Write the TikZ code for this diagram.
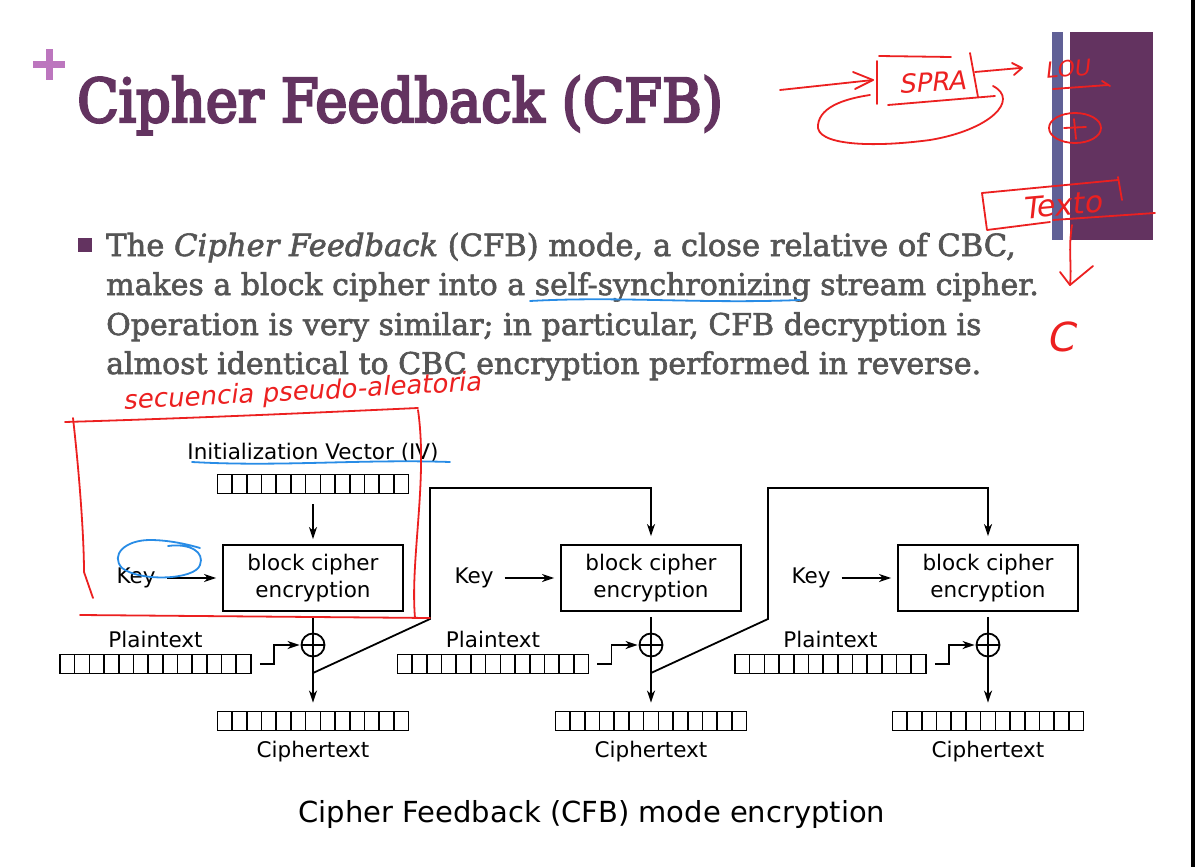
\documentclass[tikz,border=0pt]{standalone}
\usepackage{fontspec}
\setmainfont{DejaVu Sans}
\newfontfamily\slabfont{DejaVu Serif}[FakeBold=2]
\newfontfamily\headfont{DejaVu Serif Condensed}[FakeBold=4]
\newfontfamily\handfont{DejaVu Sans}[FakeSlant=0.2]
\usetikzlibrary{arrows.meta}
\definecolor{slidepurple}{RGB}{99,51,96}
\definecolor{pluspurple}{RGB}{188,118,190}
\definecolor{barblue}{RGB}{96,96,150}
\definecolor{bodygray}{RGB}{85,85,85}
\definecolor{penred}{RGB}{236,32,32}
\definecolor{penblue}{RGB}{40,140,230}

\begin{document}
\begin{tikzpicture}[x=1pt,y=-1pt,
  encbox/.style={draw,line width=1.8pt,minimum width=180pt,minimum height=66pt,inner sep=0pt,align=center,font=\fontsize{21.5}{27}\selectfont},
  reg/.style={draw,line width=1.8pt,minimum width=191pt,minimum height=19pt,inner sep=0pt,
    path picture={\foreach \k in {1,...,12}{\draw[line width=1.6pt] ([xshift=\k*14.69pt]path picture bounding box.south west) -- ([xshift=\k*14.69pt]path picture bounding box.north west);}}},
  xor/.style={draw,circle,line width=1.8pt,minimum size=23pt,inner sep=0pt,
    path picture={\draw[line width=1.8pt] (path picture bounding box.north) -- (path picture bounding box.south) (path picture bounding box.west) -- (path picture bounding box.east);}},
  lbl/.style={inner sep=0pt,anchor=base,font=\fontsize{21.5}{26}\selectfont},
  wire/.style={line width=1.8pt},
  arr/.style={line width=1.8pt,-{Stealth[length=12pt,width=8pt,inset=3.5pt]}},
  pen/.style={draw=penred,line width=1.8pt,line cap=round,line join=round},
  bluepen/.style={draw=penblue,line width=1.8pt,line cap=round,line join=round},
  scrawl/.style={inner sep=0pt,text=penred,font=\handfont}]
  \useasboundingbox[fill=white] (0,0) rectangle (1195,867);

  %slide frame
  \fill[black] (1191,0) rectangle (1195,867);
  \fill[barblue] (1052,32) rectangle (1063,240);
  \fill[slidepurple] (1070,32) rectangle (1153,240);
  \fill[pluspurple] (33,61) rectangle (65,68);
  \fill[pluspurple] (45.5,49) rectangle (52.5,80);

  %title and bullet
  \node (title) at (77,122)[anchor=base west,inner sep=0pt,text=slidepurple,font=\headfont\fontsize{60.3}{64}\selectfont]{Cipher Feedback (CFB)};
  \node (bullet) at (85,245)[fill=slidepurple,minimum size=14pt,inner sep=0pt]{};
  \node (line1) at (106,256)[anchor=base west,inner sep=0pt,text=bodygray,font=\slabfont\fontsize{30.6}{39}\selectfont]{The \textit{Cipher Feedback} (CFB) mode, a close relative of CBC,};
  \node (line2) at (106,295)[anchor=base west,inner sep=0pt,text=bodygray,font=\slabfont\fontsize{30}{39}\selectfont]{makes a block cipher into a self-synchronizing stream cipher.};
  \node (line3) at (106,335)[anchor=base west,inner sep=0pt,text=bodygray,font=\slabfont\fontsize{30}{39}\selectfont]{Operation is very similar; in particular, CFB decryption is};
  \node (line4) at (106,374)[anchor=base west,inner sep=0pt,text=bodygray,font=\slabfont\fontsize{30}{39}\selectfont]{almost identical to CBC encryption performed in reverse.};

  %registers
  \node (iv) at (313,459)[lbl]{Initialization Vector (IV)};
  \node (ivreg) at (313,484)[reg]{};
  \node (pt1) at (155.5,647)[lbl]{Plaintext};
  \node (pt2) at (493,647)[lbl]{Plaintext};
  \node (pt3) at (830.5,647)[lbl]{Plaintext};
  \node (ptreg1) at (155.5,664)[reg]{};
  \node (ptreg2) at (493,664)[reg]{};
  \node (ptreg3) at (830.5,664)[reg]{};
  \node (ctreg1) at (313,721)[reg]{};
  \node (ctreg2) at (651,721)[reg]{};
  \node (ctreg3) at (988,721)[reg]{};
  \node (ct1) at (313,757)[lbl]{Ciphertext};
  \node (ct2) at (651,757)[lbl]{Ciphertext};
  \node (ct3) at (988,757)[lbl]{Ciphertext};

  %cipher blocks
  \node (enc1) at (313,578)[encbox]{block cipher\\encryption};
  \node (enc2) at (651,578)[encbox]{block cipher\\encryption};
  \node (enc3) at (988,578)[encbox]{block cipher\\encryption};
  \node (key1) at (136,583)[lbl]{Key};
  \node (key2) at (474,583)[lbl]{Key};
  \node (key3) at (811,583)[lbl]{Key};
  \node (xor1) at (313,645)[xor]{};
  \node (xor2) at (651,645)[xor]{};
  \node (xor3) at (988,645)[xor]{};

  \node (caption) at (592,822)[lbl,font=\fontsize{29}{34}\selectfont]{Cipher Feedback (CFB) mode encryption};

  %feedback corners
  \coordinate (tap1) at (313,673);
  \coordinate (tap2) at (651,673);
  \coordinate (up1) at (430,619);
  \coordinate (up2) at (768,619);
  \coordinate (top1) at (430,488);
  \coordinate (top2) at (768,488);

  %arrows into the blocks
  \draw [arr,shorten <=10pt,shorten >=5pt] (ivreg) to (enc1);
  \draw [arr,shorten <=11pt,shorten >=6pt] (key1.east |- enc1) to (enc1.west);
  \draw [arr,shorten <=11pt,shorten >=6pt] (key2.east |- enc2) to (enc2.west);
  \draw [arr,shorten <=11pt,shorten >=6pt] (key3.east |- enc3) to (enc3.west);

  %block to xor to ciphertext
  \draw [wire,shorten <=5pt] (enc1) to (xor1);
  \draw [wire,shorten <=5pt] (enc2) to (xor2);
  \draw [wire,shorten <=5pt] (enc3) to (xor3);
  \draw [arr,shorten >=8pt] (xor1) to (ctreg1);
  \draw [arr,shorten >=8pt] (xor2) to (ctreg2);
  \draw [arr,shorten >=8pt] (xor3) to (ctreg3);

  %plaintext into xor
  \draw [arr,shorten >=1pt] ([xshift=8pt]ptreg1.east) -- ++(14,0) |- (xor1.west);
  \draw [arr,shorten >=1pt] ([xshift=8pt]ptreg2.east) -- ++(14,0) |- (xor2.west);
  \draw [arr,shorten >=1pt] ([xshift=8pt]ptreg3.east) -- ++(14,0) |- (xor3.west);

  %feedback
  \draw [arr,shorten >=8pt] (tap1) -- (up1) -- (top1) -| (enc2.north);
  \draw [arr,shorten >=8pt] (tap2) -- (up2) -- (top2) -| (enc3.north);

  %blue marks
  \draw [bluepen] (192,462) .. controls (280,467) and (360,459) .. (450,462);
  \draw [bluepen] (530,301) .. controls (620,296) and (700,304) .. (800,300);
  \draw [bluepen] (168,546) .. controls (190,543) and (205,552) .. (200,565) .. controls (195,580) and (140,582) .. (122,568) .. controls (110,555) and (125,540) .. (150,540) .. controls (170,540) and (190,545) .. (200,548);

  %red frame round the first stage
  \draw [pen] (65,422) .. controls (200,418) and (330,412) .. (418,408);
  \draw [pen] (73,418) .. controls (80,480) and (84,540) .. (84,572) -- (93,598);
  \draw [pen] (80,615) -- (430,618);
  \draw [pen] (418,410) .. controls (428,480) and (410,560) .. (415,618);
  \node (seq) at (302,393)[scrawl,rotate=3,font=\handfont\fontsize{26}{26}\selectfont]{secuencia pseudo-aleatoria};

  %red notes top right
  \draw [pen] (780,90) -- (873,80);
  \draw [pen] (853,72) -- (873,80) -- (855,89);
  \draw [pen] (877,61) -- (877,104);
  \draw [pen] (879,56) -- (951,57);
  \draw [pen] (970,53) -- (978,97);
  \draw [pen] (888,105) -- (995,96);
  \draw [pen] (993,86) .. controls (1020,100) and (990,130) .. (930,140) .. controls (870,148) and (815,145) .. (818,125) .. controls (820,105) and (850,98) .. (870,95);
  \draw [pen] (975,72) -- (1020,68);
  \draw [pen] (1012,63) -- (1022,68) -- (1014,75);
  \node (spra) at (932,82)[scrawl,rotate=3,font=\handfont\fontsize{26}{26}\selectfont]{SPRA};
  \node (lou) at (1067,69)[scrawl,rotate=5,font=\handfont\fontsize{22}{22}\selectfont]{LOU};
  \draw [pen] (1053,89) -- (1108,85);
  \draw [pen] (1102,81) -- (1110,86);
  \draw [pen] (1075,128) ellipse [x radius=26,y radius=15];
  \draw [pen] (1064,128) -- (1086,127) (1074,119) -- (1076,139);
  \draw [pen] (1118,180) -- (982,193) -- (987,230) -- (1050,222);
  \draw [pen] (1118,177) -- (1122,200);
  \draw [pen] (1053,220) -- (1155,213);
  \node (texto) at (1062,205)[scrawl,rotate=5,font=\handfont\fontsize{30}{30}\selectfont]{Texto};
  \draw [pen] (1072,225) .. controls (1068,250) and (1072,265) .. (1070,285);
  \draw [pen] (1060,272) -- (1070,285) -- (1093,266);
  \node (cnote) at (1060,337)[scrawl,font=\handfont\fontsize{40}{40}\selectfont]{C};
\end{tikzpicture}
\end{document}
